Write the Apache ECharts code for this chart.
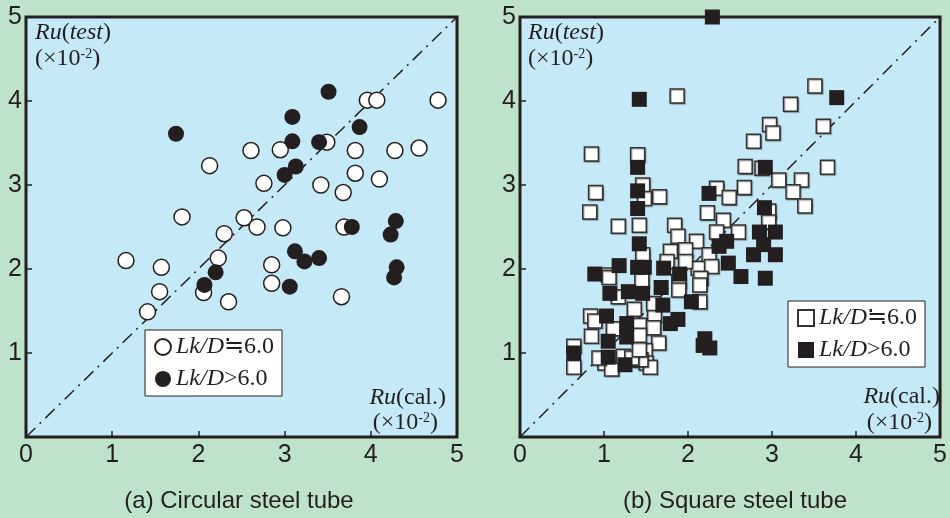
<!DOCTYPE html>
<html>
<head>
<meta charset="utf-8">
<script src="https://cdn.jsdelivr.net/npm/echarts@6/dist/echarts.min.js"></script>
<style>
html,body{margin:0;padding:0;background:#bfe3ca;}
#c{width:950px;height:518px;}
</style>
</head>
<body>
<div id="c"></div>
<script>
// ---- data ----
var axisTicks = [0, 1, 2, 3, 4, 5];
var refLine = [[0, 0], [5, 5]];

// (a) circular steel tube
var circOpen = [[3.96,4.01],[4.07,4.01],[4.78,4.01],[3.49,3.51],[2.61,3.41],[2.95,3.42],[3.82,3.41],[4.28,3.41],[4.56,3.44],[2.13,3.23],[3.82,3.14],[4.10,3.07],[2.76,3.02],[3.42,3.00],[3.68,2.91],[1.81,2.62],[2.53,2.61],[2.68,2.50],[2.98,2.49],[3.69,2.50],[2.30,2.42],[1.16,2.10],[2.23,2.13],[1.57,2.02],[2.85,2.05],[1.55,1.73],[2.06,1.72],[2.35,1.61],[2.85,1.83],[1.41,1.49],[3.66,1.67]];
var circFilled = [[1.74,3.61],[3.09,3.81],[3.51,4.11],[3.09,3.52],[3.40,3.51],[3.87,3.69],[3.13,3.22],[3.00,3.12],[3.78,2.50],[4.29,2.57],[4.23,2.41],[3.12,2.21],[3.23,2.09],[3.40,2.13],[2.20,1.96],[2.07,1.81],[3.06,1.79],[4.30,2.02],[4.27,1.90]];

// (b) square steel tube
var sqOpen = [[1.87,4.06],[3.51,4.18],[3.22,3.96],[2.97,3.72],[3.01,3.62],[3.61,3.70],[2.78,3.52],[0.85,3.37],[1.40,3.36],[2.68,3.22],[2.88,3.20],[3.66,3.21],[3.08,3.06],[3.35,3.06],[3.25,2.92],[2.67,2.97],[0.90,2.91],[1.46,3.00],[1.66,2.86],[1.48,2.84],[2.34,2.96],[2.49,2.85],[3.39,2.75],[2.96,2.69],[0.83,2.68],[2.23,2.67],[2.42,2.58],[1.17,2.51],[1.42,2.52],[1.84,2.52],[2.34,2.44],[2.60,2.44],[2.96,2.56],[1.88,2.39],[2.10,2.33],[1.79,2.21],[1.97,2.23],[2.25,2.17],[1.46,2.17],[2.12,2.01],[2.28,2.03],[1.97,2.09],[1.75,2.09],[1.05,1.93],[1.06,1.90],[2.15,1.89],[2.14,1.81],[1.17,1.67],[1.89,1.85],[1.89,1.75],[2.14,1.61],[1.36,1.52],[0.84,1.44],[0.89,1.38],[1.60,1.45],[1.42,1.33],[1.59,1.30],[1.11,1.29],[0.85,1.20],[1.42,1.21],[1.65,1.12],[0.64,1.08],[0.64,0.83],[1.01,0.88],[1.09,0.81],[1.30,0.92],[1.49,1.03],[1.50,0.88],[1.55,0.83],[1.44,0.92],[0.94,0.94],[1.23,0.96],[1.33,0.94],[1.45,1.87],[1.59,1.59],[1.42,1.04]];
var sqFilled = [[2.29,5.00],[1.42,4.02],[3.77,4.04],[1.40,3.21],[2.92,3.21],[1.40,2.93],[2.25,2.90],[2.91,2.73],[1.40,2.72],[2.85,2.44],[3.04,2.44],[2.90,2.29],[2.78,2.17],[3.04,2.17],[2.92,1.89],[2.63,1.91],[1.42,2.30],[2.46,2.33],[2.37,2.27],[2.48,2.07],[1.18,2.04],[1.40,2.02],[1.48,2.02],[1.71,2.01],[1.90,1.94],[0.89,1.94],[1.07,1.71],[1.29,1.73],[1.46,1.71],[1.68,1.78],[2.04,1.61],[1.70,1.57],[1.03,1.44],[1.88,1.40],[1.79,1.35],[1.27,1.35],[1.27,1.19],[1.05,1.14],[1.05,0.95],[2.20,1.17],[2.26,1.06],[2.18,1.09],[0.64,1.00],[1.25,0.86]];

var seriesNames = ['Lk/D≒6.0', 'Lk/D>6.0'];
var panelTitles = ['(a) Circular steel tube', '(b) Square steel tube'];

// ---- styles ----
var INK = '#231f20';
var SERIF = '"Liberation Serif", "Times New Roman", serif';
var SANS = '"Liberation Sans", Arial, sans-serif';

function makeAxis(idx, isY) {
  return {
    type: 'value', gridIndex: idx, min: 0, max: 5, interval: 1,
    axisLine: {show: false},
    axisTick: {show: true, inside: true, length: 6, lineStyle: {color: INK, width: 1.5}},
    splitLine: {show: false},
    axisLabel: {
      show: true, color: INK, fontFamily: SANS, fontSize: 25, margin: isY ? 4 : 6,
      showMinLabel: true, showMaxLabel: true,
      formatter: function (v) { return (isY && v === 0) ? '' : String(v); }
    }
  };
}

var richLegend = {
  i: {fontFamily: SERIF, fontStyle: 'italic', fontSize: 24, color: INK, lineHeight: 24},
  n: {fontFamily: SERIF, fontSize: 24, color: INK, lineHeight: 24}
};
function legendFmt(name) {
  var s = name.replace(/ \(.\)$/, '');
  return '{i|Lk/D}{n|' + s.slice(4) + '}';
}

var openStyle = {color: '#fff', borderColor: INK, borderWidth: 1.5, opacity: 1};
var openSqStyle = {color: '#fff', borderColor: '#333', borderWidth: 1.5, opacity: 1, shadowColor: 'rgba(0,0,0,0.35)', shadowOffsetX: 1, shadowOffsetY: 1, shadowBlur: 1};
var fillStyle = {color: INK, opacity: 1};

var lineStyle = {color: INK, width: 1.5, type: [13, 6, 2, 6]};

function richLabel(x, y, text, align) {
  return {
    type: 'text', x: x, y: y, z: 100,
    style: {
      text: text, align: align || 'left', verticalAlign: 'middle',
      rich: {
        i: {fontFamily: SERIF, fontStyle: 'italic', fontSize: 24, fill: INK, color: INK},
        n: {fontFamily: SERIF, fontSize: 24, fill: INK, color: INK},
        s: {fontFamily: SERIF, fontSize: 14, fill: INK, color: INK, verticalAlign: 'top'}
      }
    }
  };
}
var ylabTxt = '{i|Ru}{n|(}{i|test}{n|)}';
var xlabTxt = '{i|Ru}{n|(cal.)}';
var unitTxt = '{n|(×10}{s|-2}{n|)}';

function legendOpt(suffix, left, top) {
  return {
    data: [seriesNames[0] + suffix, seriesNames[1] + suffix],
    orient: 'vertical', left: left, top: top, itemWidth: 16, itemHeight: 16, itemGap: 8,
    padding: [5, 8, 5, 9], backgroundColor: '#fff', borderColor: INK, borderWidth: 1, borderRadius: 0,
    formatter: legendFmt, textStyle: {rich: richLegend, fontSize: 24}, selectedMode: false
  };
}

var chart = echarts.init(document.getElementById('c'), null, {renderer: 'canvas'});
chart.setOption({
  backgroundColor: '#bfe3ca',
  animation: false,
  grid: [
    {left: 26, top: 17, width: 431, height: 420, show: true, backgroundColor: '#c6e9f8', borderColor: INK, borderWidth: 3},
    {left: 520, top: 17, width: 428, height: 420, show: true, backgroundColor: '#c6e9f8', borderColor: INK, borderWidth: 3}
  ],
  xAxis: [makeAxis(0, false), makeAxis(1, false)],
  yAxis: [makeAxis(0, true), makeAxis(1, true)],
  legend: [legendOpt(' (a)', 145, 330), legendOpt(' (b)', 788, 301)],
  series: [
    {type: 'line', xAxisIndex: 0, yAxisIndex: 0, data: refLine, symbol: 'none', silent: true, z: 1, lineStyle: lineStyle},
    {type: 'line', xAxisIndex: 1, yAxisIndex: 1, data: refLine, symbol: 'none', silent: true, z: 1, lineStyle: lineStyle},
    {name: seriesNames[0] + ' (a)', type: 'scatter', xAxisIndex: 0, yAxisIndex: 0, data: circOpen, symbol: 'circle', symbolSize: 16, itemStyle: openStyle, z: 2, clip: false},
    {name: seriesNames[1] + ' (a)', type: 'scatter', xAxisIndex: 0, yAxisIndex: 0, data: circFilled, symbol: 'circle', symbolSize: 16, itemStyle: fillStyle, z: 3, clip: false},
    {name: seriesNames[0] + ' (b)', type: 'scatter', xAxisIndex: 1, yAxisIndex: 1, data: sqOpen, symbol: 'rect', symbolSize: 14, itemStyle: openSqStyle, z: 2, clip: false},
    {name: seriesNames[1] + ' (b)', type: 'scatter', xAxisIndex: 1, yAxisIndex: 1, data: sqFilled, symbol: 'rect', symbolSize: 15, itemStyle: fillStyle, z: 3, clip: false}
  ],
  graphic: [
    richLabel(35, 33, ylabTxt),
    richLabel(35, 59, unitTxt),
    richLabel(446, 398, xlabTxt, 'right'),
    richLabel(438, 423, unitTxt, 'right'),
    richLabel(528, 33, ylabTxt),
    richLabel(528, 59, unitTxt),
    richLabel(940, 397, xlabTxt, 'right'),
    richLabel(932, 423, unitTxt, 'right'),
    {type: 'text', x: 239, y: 501, style: {text: panelTitles[0], font: '24px ' + SANS, fill: INK, align: 'center', verticalAlign: 'middle'}},
    {type: 'text', x: 735, y: 501, style: {text: panelTitles[1], font: '24px ' + SANS, fill: INK, align: 'center', verticalAlign: 'middle'}}
  ]
});
</script>
</body>
</html>
